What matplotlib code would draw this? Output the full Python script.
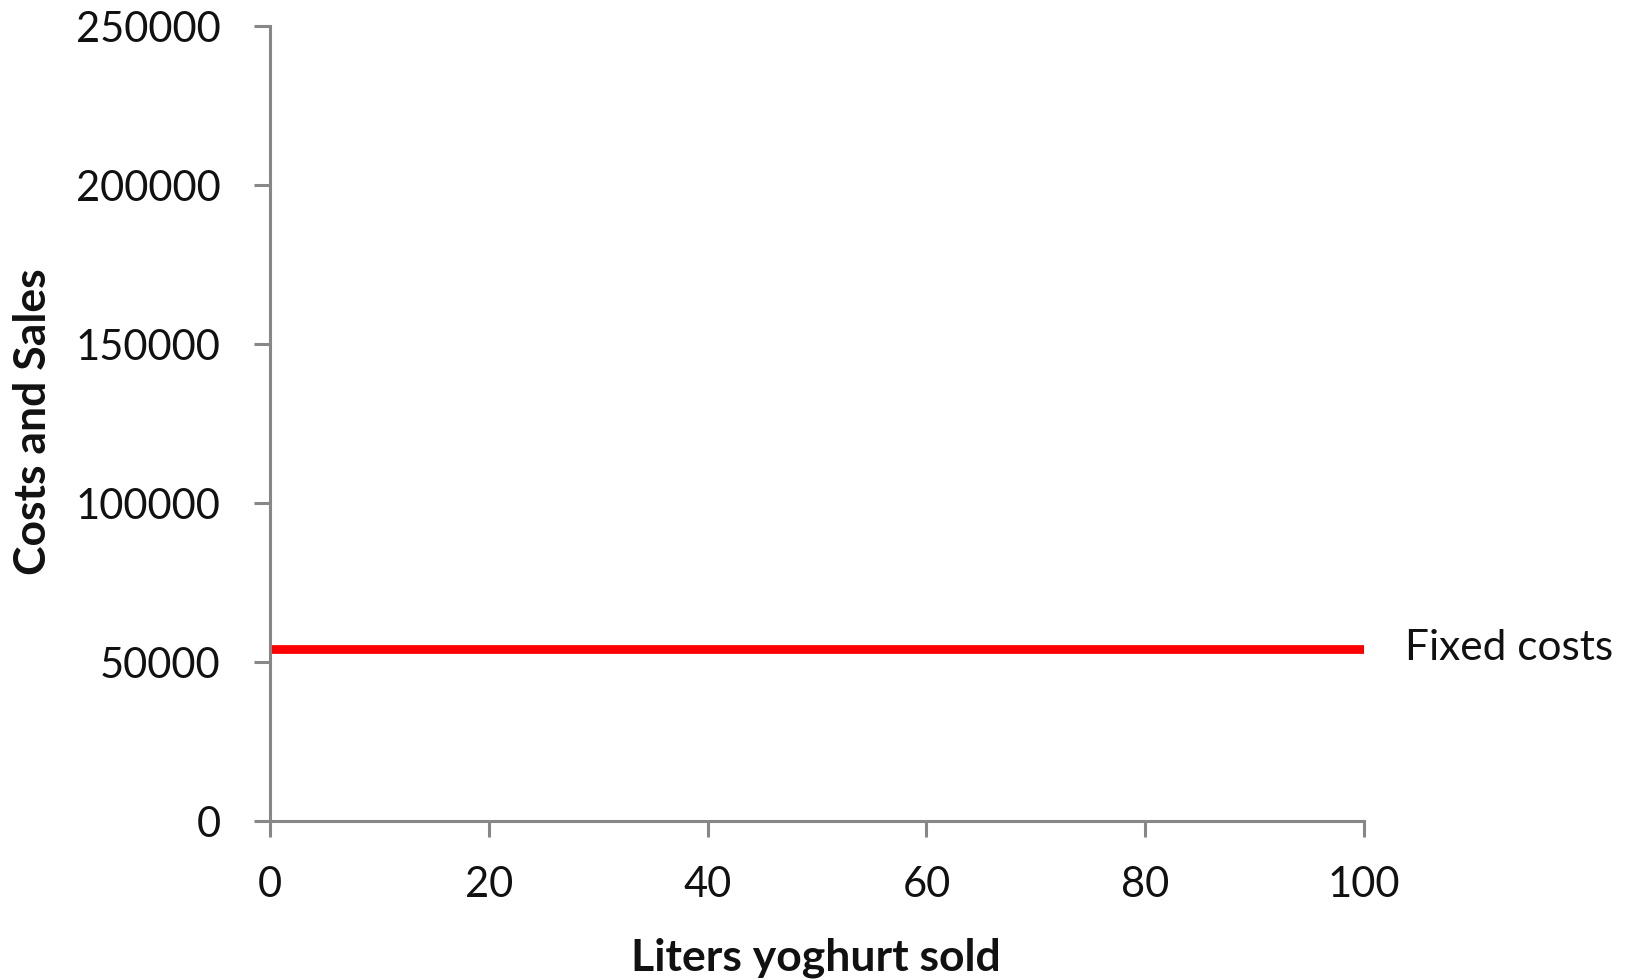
import matplotlib
matplotlib.use("Agg")
import matplotlib.pyplot as plt

# Break-even chart: fixed costs only
liters = [0, 100]
fixed_costs = [54000, 54000]
x_ticks = [0, 20, 40, 60, 80, 100]
y_ticks = [0, 50000, 100000, 150000, 200000, 250000]

plt.rcParams['font.family'] = ['Lato', 'DejaVu Sans']

W, H = 1631, 980
fig = plt.figure(figsize=(W / 100, H / 100), dpi=100)
ax = fig.add_axes([270 / W, 1 - 821 / H, (1364 - 270) / W, (821 - 26.5) / H])

ax.plot(liters, fixed_costs, color='#ff0000', linewidth=6.3, solid_capstyle='butt')
ax.annotate('Fixed costs', xy=(liters[-1], fixed_costs[-1]), xytext=(41, -11),
            textcoords='offset pixels', fontsize=30.5, va='baseline', ha='left',
            color='#111111', annotation_clip=False)

ax.set_xlim(0, 100)
ax.set_ylim(0, 250000)
ax.set_xticks(x_ticks)
ax.set_yticks(y_ticks)

grey = '#878787'
for side in ['top', 'right']:
    ax.spines[side].set_visible(False)
for side in ['left', 'bottom']:
    ax.spines[side].set_color(grey)
    ax.spines[side].set_linewidth(2.2)
ax.tick_params(axis='both', direction='out', length=11.5, width=2.2, color=grey,
               labelsize=30, labelcolor='#111111')
ax.tick_params(axis='x', pad=21)
ax.tick_params(axis='y', pad=24)

fig.text(816 / W, 1 - 970 / H, 'Liters yoghurt sold', ha='center', va='baseline',
         fontsize=32, fontweight='bold', color='#111111')
fig.text(33 / W, 1 - 422 / H, 'Costs and Sales', ha='center', va='center',
         rotation=90, fontsize=32, fontweight='bold', color='#111111')

fig.savefig('out.png', dpi=100)
